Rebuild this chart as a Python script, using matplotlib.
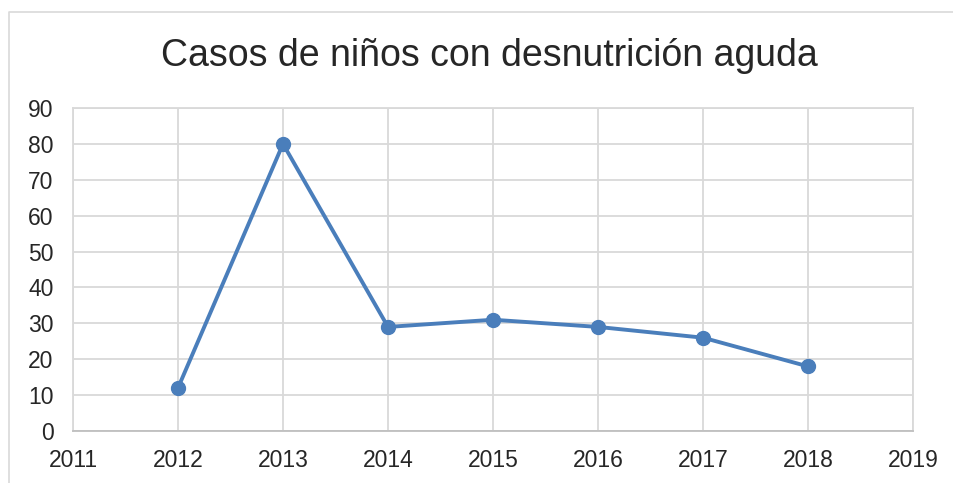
import matplotlib
matplotlib.use("Agg")
import matplotlib.pyplot as plt
from matplotlib.lines import Line2D

years = [2012, 2013, 2014, 2015, 2016, 2017, 2018]
cases = [12, 80, 29, 31, 29, 26, 18]
x_ticks = [2011, 2012, 2013, 2014, 2015, 2016, 2017, 2018, 2019]
y_ticks = [0, 10, 20, 30, 40, 50, 60, 70, 80, 90]
title = "Casos de niños con desnutrición aguda"

plt.rcParams['font.family'] = ['Liberation Sans', 'DejaVu Sans']
W, H = 954, 483
fig = plt.figure(figsize=(W/100, H/100), dpi=100)
# outer chart border (cropped: only left and top edges visible)
fig.lines.append(Line2D([9.5/W, 9.5/W, 1], [0, 1-12/H, 1-12/H], transform=fig.transFigure,
                        color='#d9d9d9', linewidth=1.2))

ax = fig.add_axes([73/W, 1-431/H, (913-73)/W, (431-108)/H])
line_color = '#4a7ebb'
ax.plot(years, cases, color=line_color, linewidth=2.8, marker='o', markersize=10,
        markerfacecolor=line_color, markeredgecolor=line_color, zorder=3, clip_on=False)
ax.set_xlim(2011, 2019)
ax.set_ylim(0, 90)
ax.set_xticks(x_ticks)
ax.set_yticks(y_ticks)
ax.grid(True, color='#d9d9d9', linewidth=1.3)
ax.set_axisbelow(True)
for s in ax.spines.values():
    s.set_color('#d9d9d9')
    s.set_linewidth(1.3)
ax.spines['bottom'].set_color('#bfbfbf')
ax.tick_params(length=0, labelsize=16.5, labelcolor='#262626')
ax.tick_params(axis='y', pad=14)
ax.tick_params(axis='x', pad=13)
fig.text(489/W, 1-56/H, title, ha='center', va='center', fontsize=27, color='#262626')
fig.savefig('out.png', dpi=100)
